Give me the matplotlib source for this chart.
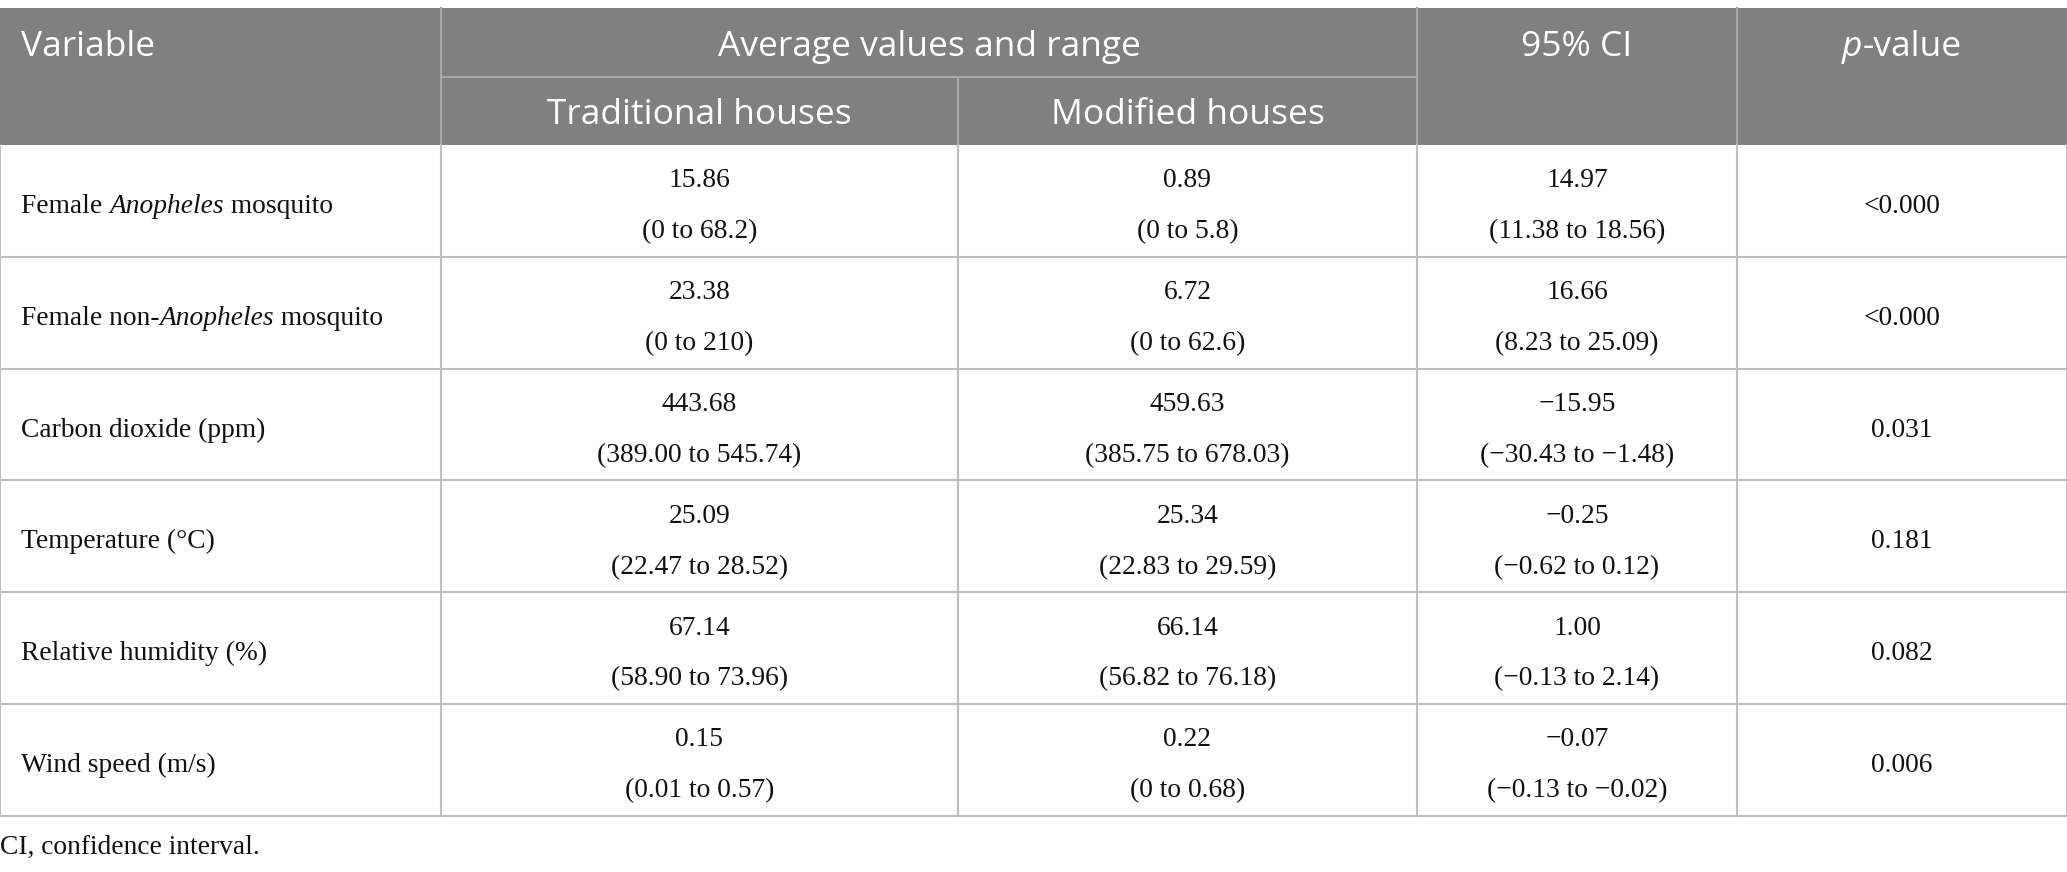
import matplotlib
matplotlib.use("Agg")
import matplotlib.pyplot as plt
from matplotlib.patches import Rectangle

# table content
variables = [
    "Female *Anopheles* mosquito",
    "Female non-*Anopheles* mosquito",
    "Carbon dioxide (ppm)",
    "Temperature (°C)",
    "Relative humidity (%)",
    "Wind speed (m/s)",
]
trad_mean = ["15.86", "23.38", "443.68", "25.09", "67.14", "0.15"]
trad_range = ["(0 to 68.2)", "(0 to 210)", "(389.00 to 545.74)",
              "(22.47 to 28.52)", "(58.90 to 73.96)", "(0.01 to 0.57)"]
mod_mean = ["0.89", "6.72", "459.63", "25.34", "66.14", "0.22"]
mod_range = ["(0 to 5.8)", "(0 to 62.6)", "(385.75 to 678.03)",
             "(22.83 to 29.59)", "(56.82 to 76.18)", "(0 to 0.68)"]
ci_diff = ["14.97", "16.66", "\u221215.95", "\u22120.25", "1.00", "\u22120.07"]
ci_range = ["(11.38 to 18.56)", "(8.23 to 25.09)", "(\u221230.43 to \u22121.48)",
            "(\u22120.62 to 0.12)", "(\u22120.13 to 2.14)", "(\u22120.13 to \u22120.02)"]
p_values = ["<0.000", "<0.000", "0.031", "0.181", "0.082", "0.006"]
footnote = "CI, confidence interval."

# layout (pixels)
W, H = 2067, 872
col_x = [0, 441, 958, 1417, 1737, 2067]
top, mid, head_bot = 8, 77, 145
row_h = 111.8

head_bg = "#808080"
head_line = "#a8a8a8"
body_line = "#bebebe"
sans = "Open Sans"
serif = "Liberation Serif"
hsize = 25.5
bsize = 19.8

fig = plt.figure(figsize=(W / 100, H / 100), dpi=100)
ax = fig.add_axes([0, 0, 1, 1])
ax.set_xlim(0, W)
ax.set_ylim(H, 0)
ax.axis("off")
renderer = fig.canvas.get_renderer()


def adv(s, **kw):
    # advance width of a string, spaces included
    t1 = ax.text(0, 0, s + "|", **kw)
    t2 = ax.text(0, 0, "|", **kw)
    w = t1.get_window_extent(renderer).width - t2.get_window_extent(renderer).width
    t1.remove()
    t2.remove()
    return w


def runs_text(x, y, marked, ha="left", **kw):
    # text with *italic* parts
    parts = marked.split("*")
    runs = [(p, "italic" if i % 2 else "normal") for i, p in enumerate(parts) if p]
    widths = [adv(s, style=st, **kw) for s, st in runs]
    x0 = x - sum(widths) / 2 if ha == "center" else x
    for (s, st), w in zip(runs, widths):
        ax.text(x0, y, s, style=st, ha="left", va="baseline", **kw)
        x0 += w


# header
ax.add_patch(Rectangle((0, top), W, head_bot - top, color=head_bg, lw=0))
hkw = dict(family=sans, size=hsize, color="white")
ax.text(21, 56, "Variable", ha="left", va="baseline", **hkw)
ax.text((col_x[1] + col_x[3]) / 2, 56, "Average values and range",
        ha="center", va="baseline", **hkw)
ax.text((col_x[3] + col_x[4]) / 2, 56, "95% CI", ha="center", va="baseline", **hkw)
runs_text((col_x[4] + col_x[5]) / 2, 56, "*p*-value", ha="center", **hkw)
ax.text((col_x[1] + col_x[2]) / 2, 124, "Traditional houses",
        ha="center", va="baseline", **hkw)
ax.text((col_x[2] + col_x[3]) / 2, 124, "Modified houses",
        ha="center", va="baseline", **hkw)

ax.plot([col_x[1], col_x[3]], [mid, mid], color=head_line, lw=1.5)
for cx in (col_x[1], col_x[3], col_x[4]):
    ax.plot([cx, cx], [top, head_bot], color=head_line, lw=1.5)
ax.plot([col_x[2], col_x[2]], [mid, head_bot], color=head_line, lw=1.5)

# body
bkw = dict(family=serif, size=bsize, color="#111111")
n = len(variables)
bottom = head_bot + n * row_h
for i in range(n):
    yc = head_bot + (i + 0.5) * row_h
    runs_text(21, yc + 12, variables[i], **bkw)
    for j, (a, b) in enumerate([(trad_mean, trad_range), (mod_mean, mod_range),
                                (ci_diff, ci_range)]):
        xc = (col_x[j + 1] + col_x[j + 2]) / 2
        ax.text(xc, yc - 13.5, a[i], ha="center", va="baseline", **bkw)
        ax.text(xc, yc + 37.5, b[i], ha="center", va="baseline", **bkw)
    ax.text((col_x[4] + col_x[5]) / 2, yc + 12, p_values[i],
            ha="center", va="baseline", **bkw)
    yl = head_bot + (i + 1) * row_h
    ax.plot([0, W], [yl, yl], color=body_line, lw=1.5)

for cx in col_x:
    ax.plot([cx, cx], [head_bot, bottom], color=body_line, lw=1.5)

ax.text(0, 854, footnote, ha="left", va="baseline", **bkw)

fig.savefig("out.png", dpi=100)
